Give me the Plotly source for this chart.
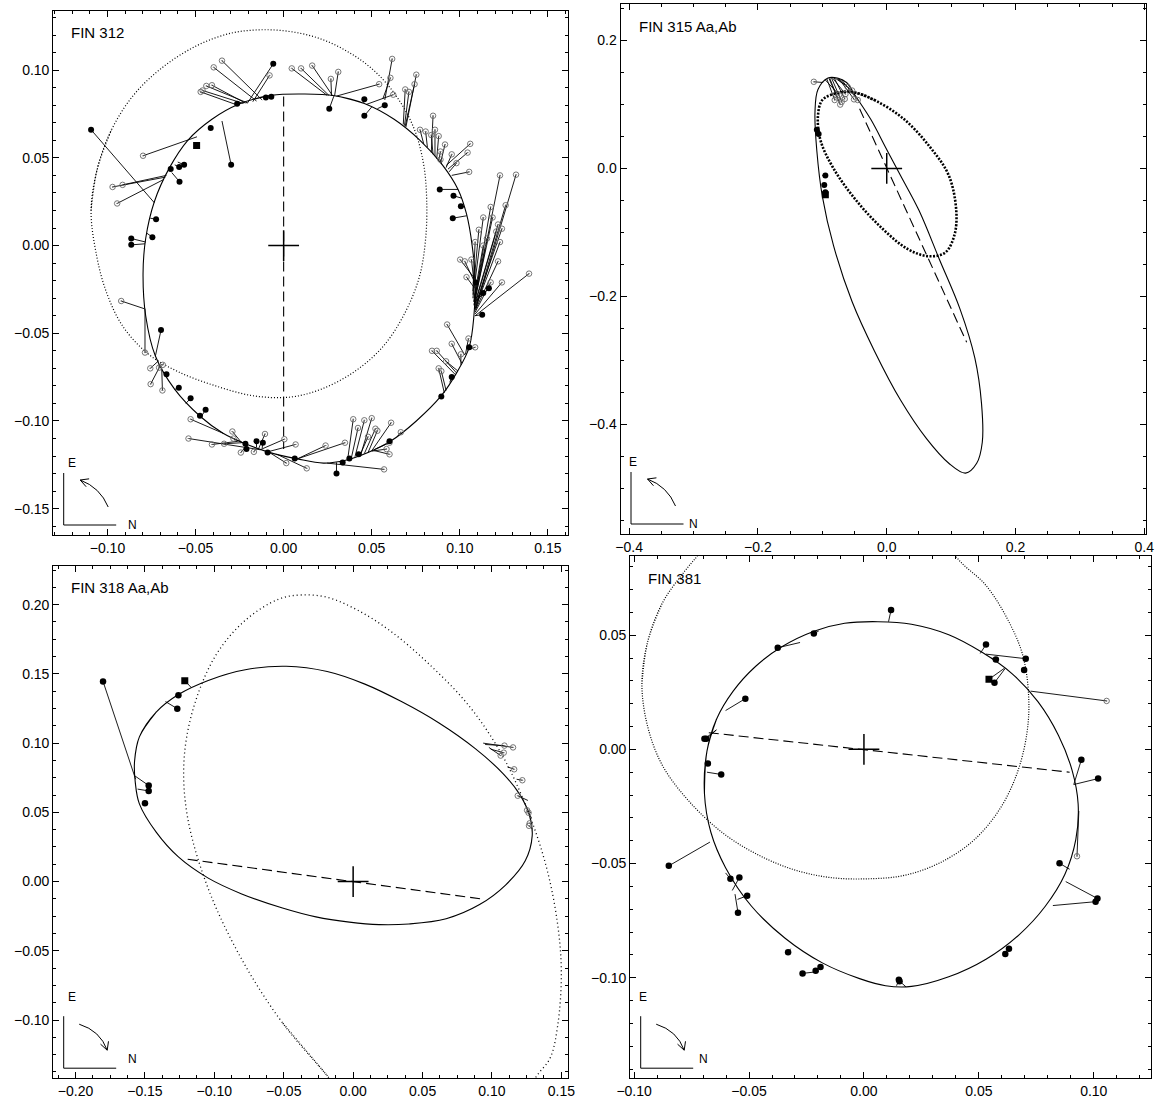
import plotly.graph_objects as go
import numpy as np

# ---------------- DATA ----------------
# Panel 1: FIN 312
P1_orbit_x = [0.0120, 0.0289, 0.0458, 0.0627, 0.0774, 0.0901, 0.0990, 0.1038, 0.1070, 0.1087, 0.1080, 0.1053,
              0.0985, 0.0895, 0.0753, 0.0606, 0.0479, 0.0352, 0.0226, 0.0078, -0.0091, -0.0217, -0.0344, -0.0471,
              -0.0618, -0.0728, -0.0783, -0.0798, -0.0783, -0.0734, -0.0650, -0.0544, -0.0407, -0.0259, -0.0070, 0.0120]
P1_orbit_y = [0.0864, 0.0854, 0.0810, 0.0720, 0.0600, 0.0460, 0.0320, 0.0180, 0.0000, -0.0200, -0.0400, -0.0580,
              -0.0720, -0.0856, -0.1000, -0.1116, -0.1180, -0.1224, -0.1240, -0.1216, -0.1176, -0.1130, -0.1070, -0.0976,
              -0.0820, -0.0630, -0.0400, -0.0160, 0.0040, 0.0250, 0.0440, 0.0600, 0.0720, 0.0804, 0.0856, 0.0864]
P1_prev_x = [-0.1093, -0.1057, -0.0977, -0.0850, -0.0682, -0.0492, -0.0302, -0.0133, 0.0036, 0.0205, 0.0373, 0.0521,
             0.0648, 0.0743, 0.0795, 0.0812, 0.0806, 0.0770, 0.0680, 0.0560, 0.0400, 0.0210, 0.0036, -0.0175,
             -0.0386, -0.0597, -0.0766, -0.0913, -0.1008, -0.1065, -0.1093]
P1_prev_y = [0.0200, 0.0440, 0.0660, 0.0860, 0.1020, 0.1140, 0.1210, 0.1230, 0.1220, 0.1180, 0.1100, 0.0990,
             0.0840, 0.0660, 0.0460, 0.0260, 0.0040, -0.0180, -0.0400, -0.0580, -0.0720, -0.0820, -0.0864, -0.0856,
             -0.0800, -0.0720, -0.0620, -0.0460, -0.0260, -0.0040, 0.0200]
P1_node_x = [0.0, 0.0]
P1_node_y = [0.085, -0.116]
P1_fill_x = [-0.0059, -0.0101, -0.0070, -0.0264, -0.0414, -0.0298, -0.0641, -0.0593, -0.0565, -0.0591,
             -0.1093, -0.0724, -0.0865, -0.0865, -0.0745, -0.0696, -0.0665, -0.0595, -0.0528, -0.0443,
             -0.0475, -0.0217, -0.0211, -0.0154, -0.0118, -0.0091, 0.0063, 0.0300, 0.0335, 0.0373,
             0.0426, 0.0601, 0.0895, 0.0954, 0.1053, 0.1091, 0.1133, 0.1165, 0.1127, 0.0886,
             0.0964, 0.1006, 0.0960, 0.0574, 0.0458, 0.0458, 0.0259]
P1_fill_y = [0.1036, 0.0844, 0.0848, 0.0808, 0.0670, 0.0460, 0.0436, 0.0448, 0.0460, 0.0364,
             0.0660, 0.0150, 0.0040, 0.0004, 0.0048, -0.0482, -0.0734, -0.0810, -0.0870, -0.0936,
             -0.0970, -0.1130, -0.1160, -0.1116, -0.1124, -0.1180, -0.1214, -0.1300, -0.1236, -0.1214,
             -0.1190, -0.1116, -0.0860, -0.0750, -0.0580, -0.0210, -0.0270, -0.0244, -0.0394, 0.0320,
             0.0284, 0.0224, 0.0156, 0.0800, 0.0834, 0.0740, 0.0780]
P1_fill_cx = [-0.0207, -0.0108, -0.0074, -0.0249, -0.0418, -0.0350, -0.0650, -0.0618, -0.0601, -0.0635,
              -0.0734, -0.0757, -0.0783, -0.0787, -0.0776, -0.0728, -0.0682, -0.0618, -0.0555, -0.0471,
              -0.0481, -0.0217, -0.0207, -0.0154, -0.0122, -0.0095, 0.0078, 0.0300, 0.0342, 0.0373,
              0.0426, 0.0606, 0.0901, 0.0943, 0.1049, 0.1085, 0.1087, 0.1087, 0.1085, 0.0990,
              0.1011, 0.1028, 0.1040, 0.0532, 0.0454, 0.0500, 0.0285]
P1_fill_cy = [0.0810, 0.0840, 0.0848, 0.0804, 0.0684, 0.0710, 0.0440, 0.0460, 0.0476, 0.0416,
              0.0244, 0.0156, 0.0020, 0.0010, 0.0070, -0.0630, -0.0720, -0.0820, -0.0900, -0.0980,
              -0.0970, -0.1124, -0.1136, -0.1150, -0.1156, -0.1170, -0.1216, -0.1236, -0.1228, -0.1214,
              -0.1190, -0.1116, -0.0852, -0.0780, -0.0586, -0.0224, -0.0300, -0.0320, -0.0400, 0.0320,
              0.0270, 0.0220, 0.0170, 0.0780, 0.0814, 0.0790, 0.0852]
P1_open_x = [-0.0080, -0.0350, -0.0397, -0.0460, -0.0439, -0.0407, -0.0471, -0.0798, -0.0971, -0.0914,
             -0.0945, -0.0922, -0.0787, -0.0757, -0.0707, -0.0686, -0.0755, -0.0688, -0.0528, -0.0540,
             -0.0407, -0.0338, -0.0291, -0.0285, -0.0243, -0.0169, -0.0106, 0.0004, 0.0068, 0.0015,
             0.0131, 0.0238, 0.0348, 0.0395, 0.0422, 0.0458, 0.0500, 0.0521, 0.0532, 0.0479,
             0.0610, 0.0601, 0.0584, 0.0601, 0.0570, 0.0665, 0.0880, 0.0895, 0.0842, 0.0869,
             0.0922, 0.1006, 0.0954, 0.1049, 0.1087, 0.0928, 0.1228, 0.1319, 0.1133, 0.1154,
             0.1217, 0.1239, 0.1108, 0.1087, 0.1175, 0.1228, 0.1002, 0.1028, 0.1066, 0.1038,
             0.1175, 0.1239, 0.1393, 0.1217, 0.1260, 0.1186, 0.1207, 0.1133, 0.0848, 0.0774,
             0.0806, 0.0838, 0.0859, 0.0880, 0.0916, 0.0890, 0.0954, 0.0981, 0.1059, 0.1044,
             0.1053, 0.0890, 0.0616, 0.0606, 0.0542, 0.0622, 0.0690, 0.0711, 0.0743, 0.0753,
             0.0046, 0.0099, 0.0162, 0.0310, 0.0268]
P1_open_y = [0.0970, 0.1054, 0.1016, 0.0884, 0.0910, 0.0914, 0.0876, 0.0512, 0.0334, 0.0346,
             0.0240, -0.0316, -0.0610, -0.0700, -0.0696, -0.0680, -0.0790, -0.0826, -0.0990, -0.1100,
             -0.1134, -0.1130, -0.1060, -0.1100, -0.1180, -0.1176, -0.1074, -0.1104, -0.1134, -0.1240,
             -0.1270, -0.1140, -0.1124, -0.0990, -0.1040, -0.0996, -0.0984, -0.1044, -0.1056, -0.1090,
             -0.1010, -0.1124, -0.1160, -0.1190, -0.1276, -0.1064, -0.0700, -0.0716, -0.0600, -0.0600,
             -0.0660, -0.0620, -0.0560, -0.0530, -0.0580, -0.0450, 0.0400, 0.0404, 0.0160, 0.0040,
             0.0120, 0.0096, 0.0090, 0.0020, 0.0220, 0.0020, -0.0080, -0.0090, -0.0080, -0.0180,
             -0.0210, -0.0210, -0.0160, -0.0090, 0.0230, 0.0160, 0.0080, 0.0000, 0.0740, 0.0660,
             0.0650, 0.0630, 0.0660, 0.0624, 0.0576, 0.0536, 0.0520, 0.0470, 0.0580, 0.0530,
             0.0420, 0.0490, 0.1064, 0.0956, 0.0920, 0.0860, 0.0890, 0.0876, 0.0920, 0.0974,
             0.1010, 0.1010, 0.1026, 0.0990, 0.0950]
P1_open_cx = [-0.0175, -0.0122, -0.0154, -0.0228, -0.0207, -0.0217, -0.0260, -0.0492, -0.0671, -0.0665,
              -0.0682, -0.0791, -0.0787, -0.0713, -0.0707, -0.0698, -0.0703, -0.0692, -0.0344, -0.0133,
              -0.0260, -0.0238, -0.0238, -0.0228, -0.0207, -0.0154, -0.0143, -0.0133, -0.0091, -0.0080,
              -0.0038, 0.0078, 0.0078, 0.0363, 0.0384, 0.0405, 0.0437, 0.0458, 0.0479, 0.0433,
              0.0500, 0.0521, 0.0500, 0.0511, 0.0247, 0.0648, 0.0912, 0.0922, 0.0975, 0.0981,
              0.0990, 0.1006, 0.1011, 0.1032, 0.1044, 0.1028, 0.1080, 0.1091, 0.1074, 0.1078,
              0.1082, 0.1085, 0.1074, 0.1074, 0.1082, 0.1087, 0.1078, 0.1080, 0.1082, 0.1082,
              0.1087, 0.1087, 0.1087, 0.1087, 0.1087, 0.1082, 0.1085, 0.1080, 0.0838, 0.0795,
              0.0816, 0.0848, 0.0859, 0.0869, 0.0890, 0.0880, 0.0922, 0.0939, 0.0922, 0.0933,
              0.0954, 0.0897, 0.0574, 0.0563, 0.0300, 0.0468, 0.0679, 0.0686, 0.0690, 0.0694,
              0.0247, 0.0257, 0.0278, 0.0289, 0.0272]
P1_open_cy = [0.0820, 0.0830, 0.0824, 0.0810, 0.0814, 0.0812, 0.0800, 0.0620, 0.0390, 0.0400,
              0.0376, -0.0360, -0.0360, -0.0660, -0.0676, -0.0680, -0.0690, -0.0700, -0.1070, -0.1164,
              -0.1116, -0.1124, -0.1124, -0.1126, -0.1136, -0.1156, -0.1160, -0.1164, -0.1176, -0.1180,
              -0.1190, -0.1216, -0.1216, -0.1222, -0.1212, -0.1204, -0.1194, -0.1186, -0.1180, -0.1196,
              -0.1170, -0.1160, -0.1172, -0.1168, -0.1240, -0.1086, -0.0840, -0.0826, -0.0736, -0.0726,
              -0.0716, -0.0680, -0.0670, -0.0620, -0.0596, -0.0624, -0.0340, -0.0360, -0.0300, -0.0320,
              -0.0340, -0.0350, -0.0280, -0.0260, -0.0320, -0.0360, -0.0180, -0.0200, -0.0220, -0.0240,
              -0.0380, -0.0390, -0.0400, -0.0370, -0.0360, -0.0330, -0.0340, -0.0300, 0.0530, 0.0580,
              0.0560, 0.0520, 0.0510, 0.0496, 0.0470, 0.0484, 0.0444, 0.0420, 0.0456, 0.0436,
              0.0400, 0.0464, 0.0830, 0.0836, 0.0852, 0.0804, 0.0690, 0.0684, 0.0680, 0.0676,
              0.0856, 0.0856, 0.0854, 0.0852, 0.0854]
P1_first_x = [-0.0494]
P1_first_y = [0.0570]

# Panel 2: FIN 315 Aa,Ab
P2_orbit_x = [-0.0912, -0.0768, -0.0624, -0.0479, -0.0248, -0.0017, 0.0214, 0.0502, 0.0820, 0.1137, 0.1368,
              0.1472, 0.1484, 0.1397, 0.1224, 0.0964, 0.0618, 0.0214, -0.0191, -0.0537, -0.0826, -0.0999,
              -0.1085, -0.1114, -0.1068, -0.0912]
P2_orbit_y = [0.1414, 0.1414, 0.1343, 0.1124, 0.0768, 0.0329, -0.0110, -0.0658, -0.1425, -0.2193, -0.2960,
              -0.3673, -0.4276, -0.4605, -0.4759, -0.4605, -0.4221, -0.3618, -0.2851, -0.2083, -0.1206, -0.0439,
              0.0274, 0.0877, 0.1234, 0.1414]
P2_prev_x = [-0.0768, -0.0537, -0.0191, 0.0271, 0.0676, 0.0964, 0.1080, 0.1051, 0.0906, 0.0647, 0.0329,
             -0.0075, -0.0479, -0.0826, -0.1028, -0.1068, -0.0999, -0.0768]
P2_prev_y = [0.1179, 0.1195, 0.1069, 0.0768, 0.0329, -0.0110, -0.0658, -0.1042, -0.1316, -0.1371, -0.1261,
             -0.0932, -0.0493, 0.0000, 0.0439, 0.0822, 0.1069, 0.1179]
P2_node_x = [-0.0421, 0.1241]
P2_node_y = [0.0932, -0.2714]
P2_open_x = [-0.1132, -0.0808, -0.0768, -0.0699, -0.0652, -0.0722, -0.0508, -0.0450, -0.0537, -0.0606, -0.0641, -0.0739]
P2_open_y = [0.1354, 0.1069, 0.1107, 0.1042, 0.1086, 0.0998, 0.1080, 0.1069, 0.1217, 0.1272, 0.1162, 0.1151]
P2_open_cx = [-0.0987, -0.0930, -0.0895, -0.0855, -0.0814, -0.0883, -0.0739, -0.0699, -0.0768, -0.0797, -0.0837, -0.0953]
P2_open_cy = [0.1343, 0.1398, 0.1404, 0.1409, 0.1414, 0.1404, 0.1398, 0.1382, 0.1404, 0.1409, 0.1409, 0.1382]
P2_fill_x = [-0.1085, -0.1057, -0.0953, -0.0970, -0.0953]
P2_fill_y = [0.0603, 0.0537, -0.0110, -0.0258, -0.0373]
P2_fill_cx = [-0.1103, -0.1091, -0.0999, -0.0987, -0.0964]
P2_fill_cy = [0.0603, 0.0521, -0.0110, -0.0247, -0.0356]
P2_first_x = [-0.0953]
P2_first_y = [-0.0411]

# Panel 3: FIN 318 Aa,Ab
P3_orbit_x = [-0.1575, -0.1540, -0.1419, -0.1259, -0.1044, -0.0777, -0.0482, -0.0187, 0.0080, 0.0348, 0.0616,
              0.0880, 0.1080, 0.1200, 0.1270, 0.1290, 0.1240, 0.1098, 0.0911, 0.0670, 0.0402, 0.0187, -0.0027,
              -0.0268, -0.0509, -0.0803, -0.1044, -0.1259, -0.1419, -0.1540, -0.1570, -0.1575]
P3_orbit_y = [0.0867, 0.1045, 0.1224, 0.1351, 0.1453, 0.1530, 0.1555, 0.1517, 0.1428, 0.1300, 0.1147,
              0.0960, 0.0780, 0.0630, 0.0480, 0.0330, 0.0150, -0.0025, -0.0166, -0.0268, -0.0306, -0.0311, -0.0293,
              -0.0255, -0.0191, -0.0089, 0.0025, 0.0178, 0.0357, 0.0561, 0.0720, 0.0867]
P3_prev_x = [0.0080, -0.0187, -0.0509, -0.0803, -0.1044, -0.1192, -0.1219, -0.1152, -0.0991, -0.0777, -0.0536,
             -0.0375, -0.0187, 0.0027, 0.0268, 0.0536, 0.0830, 0.1071, 0.1259, 0.1393, 0.1473, 0.1500, 0.1473,
             0.1419, 0.1312, 0.1205, 0.0937, 0.0402, 0.0080]
P3_prev_y = [-0.1730, -0.1402, -0.1020, -0.0561, -0.0051, 0.0459, 0.0867, 0.1249, 0.1632, 0.1887, 0.2040,
             0.2070, 0.2053, 0.1963, 0.1810, 0.1581, 0.1275, 0.0918, 0.0510, 0.0102, -0.0306, -0.0663, -0.1045,
             -0.1275, -0.1420, -0.1680, -0.1887, -0.1938, -0.1730]
P3_node_x = [-0.1192, 0.0937]
P3_node_y = [0.0161, -0.0127]
P3_fill_x = [-0.1802, -0.1259, -0.1267, -0.1473, -0.1473, -0.1500]
P3_fill_y = [0.1446, 0.1346, 0.1249, 0.0694, 0.0655, 0.0566]
P3_fill_cx = [-0.1567, -0.1262, -0.1352, -0.1575, -0.1553, -0.1513]
P3_fill_cy = [0.0739, 0.1340, 0.1300, 0.0765, 0.0668, 0.0581]
P3_open_x = [0.1063, 0.1085, 0.1152, 0.1090, 0.1160, 0.1219, 0.1186, 0.1253, 0.1264, 0.1272, 0.1267]
P3_open_y = [0.0910, 0.0931, 0.0969, 0.0982, 0.0811, 0.0732, 0.0620, 0.0515, 0.0497, 0.0421, 0.0403]
P3_open_cx = [0.0978, 0.0991, 0.0937, 0.0951, 0.1111, 0.1178, 0.1259, 0.1280, 0.1285, 0.1285, 0.1291]
P3_open_cy = [0.0969, 0.0956, 0.1000, 0.0990, 0.0829, 0.0739, 0.0586, 0.0497, 0.0459, 0.0408, 0.0382]
P3_first_x = [-0.1213]
P3_first_y = [0.1451]
P3_first_cx = [-0.1165]
P3_first_cy = [0.1400]

# Panel 4: FIN 381
P4_orbit_x = [-0.0694, -0.0683, -0.0642, -0.0569, -0.0472, -0.0359, -0.0214, -0.0084, 0.0061, 0.0207, 0.0369,
              0.0514, 0.0644, 0.0757, 0.0846, 0.0906, 0.0932, 0.0922, 0.0874, 0.0789, 0.0676, 0.0531, 0.0369,
              0.0207, 0.0094, -0.0019, -0.0181, -0.0343, -0.0489, -0.0602, -0.0666, -0.0694]
P4_orbit_y = [-0.0193, -0.0008, 0.0131, 0.0255, 0.0363, 0.0448, 0.0518, 0.0552, 0.0559, 0.0548, 0.0502,
              0.0425, 0.0332, 0.0209, 0.0062, -0.0093, -0.0239, -0.0394, -0.0548, -0.0687, -0.0811, -0.0919, -0.0996,
              -0.1038, -0.1035, -0.1004, -0.0935, -0.0827, -0.0687, -0.0518, -0.0363, -0.0193]
P4_prev_x = [-0.0966, -0.0941, -0.0877, -0.0780, -0.0699, -0.0569, -0.0359, -0.0116, 0.0126, 0.0304, 0.0401,
             0.0531, 0.0628, 0.0692, 0.0717, 0.0709, 0.0668, 0.0595, 0.0482, 0.0336, 0.0175, 0.0013, -0.0149,
             -0.0311, -0.0472, -0.0618, -0.0764, -0.0877, -0.0941, -0.0966]
P4_prev_y = [0.0286, 0.0471, 0.0641, 0.0780, 0.0873, 0.0996, 0.1151, 0.1244, 0.1213, 0.1058, 0.0845,
             0.0718, 0.0564, 0.0409, 0.0224, 0.0070, -0.0100, -0.0255, -0.0394, -0.0494, -0.0552, -0.0567, -0.0561,
             -0.0525, -0.0456, -0.0363, -0.0224, -0.0070, 0.0100, 0.0286]
P4_node_x = [-0.0675, 0.0895]
P4_node_y = [0.0073, -0.0100]
P4_fill_x = [0.0118, -0.0218, -0.0375, 0.0531, 0.0704, 0.0574, 0.0568, 0.0697, -0.0516, -0.0686, -0.0694,
             -0.0679, -0.0621, 0.0946, 0.1019, 0.0851, 0.1016, 0.1008, -0.0849, -0.0581, -0.0542, -0.0508,
             -0.0548, -0.0330, -0.0267, -0.0210, -0.0189, 0.0152, 0.0155, 0.0615, 0.0631]
P4_fill_y = [0.0610, 0.0507, 0.0445, 0.0459, 0.0397, 0.0394, 0.0292, 0.0348, 0.0222, 0.0046, 0.0046,
             -0.0062, -0.0110, -0.0046, -0.0128, -0.0499, -0.0653, -0.0667, -0.0510, -0.0567, -0.0561, -0.0641,
             -0.0715, -0.0888, -0.0981, -0.0970, -0.0953, -0.1009, -0.1015, -0.0896, -0.0873]
P4_fill_cx = [0.0107, -0.0197, -0.0278, 0.0506, 0.0531, 0.0555, 0.0615, 0.0692, -0.0602, -0.0642, -0.0642,
              -0.0689, -0.0683, 0.0913, 0.0913, 0.0895, 0.0878, 0.0822, -0.0670, -0.0602, -0.0573, -0.0550,
              -0.0561, -0.0319, -0.0197, -0.0205, -0.0178, 0.0142, 0.0183, 0.0608, 0.0624]
P4_fill_cy = [0.0559, 0.0518, 0.0468, 0.0420, 0.0417, 0.0400, 0.0355, 0.0340, 0.0170, 0.0085, 0.0085,
              -0.0070, -0.0100, -0.0154, -0.0154, -0.0525, -0.0579, -0.0684, -0.0406, -0.0541, -0.0618, -0.0657,
              -0.0634, -0.0873, -0.0973, -0.0958, -0.0947, -0.1035, -0.1040, -0.0885, -0.0870]
P4_open_x = [0.1056, 0.0927]
P4_open_y = [0.0212, -0.0468]
P4_open_cx = [0.0725, 0.0935]
P4_open_cy = [0.0255, -0.0270]
P4_first_x = [0.0544]
P4_first_y = [0.0307]
P4_first_cx = [0.0611]
P4_first_cy = [0.0355]

TITLES = ["FIN 312", "FIN 315 Aa,Ab", "FIN 318 Aa,Ab", "FIN 381"]

# ---------------- LAYOUT GEOMETRY (pixels) ----------------
W, H = 1157, 1104
# (left, right, top, bottom) pixel boxes of each panel
BOX = [(53.2, 568.0, 10.5, 535.0), (620.5, 1145.8, 4.2, 534.0),
       (53.2, 568.0, 565.9, 1078.2), (630.2, 1151.0, 556.4, 1078.2)]
RANGES = [((-0.1308, 0.1614), (-0.1650, 0.1340)),
          ((-0.4134, 0.4023), (-0.5710, 0.2566)),
          ((-0.2161, 0.1548), (-0.1420, 0.2280)),
          ((-0.1017, 0.1249), (-0.1440, 0.0845))]
DTICK = [(0.05, 0.01, ".2f"), (0.2, 0.05, ".1f"), (0.05, 0.0125, ".2f"), (0.05, 0.01, ".2f")]
CW = [False, False, True, True]
DOT = [6, 6, 6.5, 6.5]

FONT = "Liberation Sans, Arial, Helvetica, sans-serif"

fig = go.Figure()


def resid(ox, oy, cx, cy):
    xs, ys = [], []
    for a, b, c, d in zip(ox, oy, cx, cy):
        xs += [a, c, None]
        ys += [b, d, None]
    return xs, ys


def loop(xs, ys):
    # closed curve: run a little past the start so the spline joins smoothly
    return list(xs) + list(xs[1:3]), list(ys) + list(ys[1:3])


panels = [
    dict(orbit=(P1_orbit_x, P1_orbit_y), prev=(P1_prev_x, P1_prev_y), node=(P1_node_x, P1_node_y),
         fill=(P1_fill_x, P1_fill_y, P1_fill_cx, P1_fill_cy), open=(P1_open_x, P1_open_y, P1_open_cx, P1_open_cy),
         first=(P1_first_x, P1_first_y, P1_first_x, P1_first_y), prevw=1.2, prevdash="1px,2px"),
    dict(orbit=(P2_orbit_x, P2_orbit_y), prev=(P2_prev_x, P2_prev_y), node=(P2_node_x, P2_node_y),
         fill=(P2_fill_x, P2_fill_y, P2_fill_cx, P2_fill_cy), open=(P2_open_x, P2_open_y, P2_open_cx, P2_open_cy),
         first=(P2_first_x, P2_first_y, P2_first_x, P2_first_y), prevw=2.6, prevdash="2px,1.5px"),
    dict(orbit=(P3_orbit_x, P3_orbit_y), prev=(P3_prev_x, P3_prev_y), node=(P3_node_x, P3_node_y),
         fill=(P3_fill_x, P3_fill_y, P3_fill_cx, P3_fill_cy), open=(P3_open_x, P3_open_y, P3_open_cx, P3_open_cy),
         first=(P3_first_x, P3_first_y, P3_first_cx, P3_first_cy), prevw=1.3, prevdash="1px,3px"),
    dict(orbit=(P4_orbit_x, P4_orbit_y), prev=(P4_prev_x, P4_prev_y), node=(P4_node_x, P4_node_y),
         fill=(P4_fill_x, P4_fill_y, P4_fill_cx, P4_fill_cy), open=(P4_open_x, P4_open_y, P4_open_cx, P4_open_cy),
         first=(P4_first_x, P4_first_y, P4_first_cx, P4_first_cy), prevw=1.2, prevdash="1px,1.5px"),
]

for i, p in enumerate(panels):
    xa = "x" if i == 0 else f"x{i+1}"
    ya = "y" if i == 0 else f"y{i+1}"
    common = dict(xaxis=xa, yaxis=ya, showlegend=False, hoverinfo="skip")
    px_, py_ = loop(*p["prev"])
    fig.add_trace(go.Scatter(x=px_, y=py_, mode="lines", line_shape="spline",
                             line=dict(color="black", width=p["prevw"], dash=p["prevdash"]), **common))
    ox_, oy_ = loop(*p["orbit"])
    fig.add_trace(go.Scatter(x=ox_, y=oy_, mode="lines", line_shape="spline",
                             line=dict(color="black", width=1.1), **common))
    fig.add_trace(go.Scatter(x=p["node"][0], y=p["node"][1], mode="lines",
                             line=dict(color="black", width=1.1, dash="10px,5px"), **common))
    rx, ry = [], []
    for key in ("fill", "open", "first"):
        a, b = resid(*p[key])
        rx += a
        ry += b
    fig.add_trace(go.Scatter(x=rx, y=ry, mode="lines", line=dict(color="black", width=0.9), **common))
    fig.add_trace(go.Scatter(x=p["open"][0], y=p["open"][1], mode="markers",
                             marker=dict(symbol="circle-open-dot", size=5.5, color="#666666",
                                         line=dict(width=0.9, color="#666666")), **common))
    fig.add_trace(go.Scatter(x=p["fill"][0], y=p["fill"][1], mode="markers",
                             marker=dict(symbol="circle", size=DOT[i], color="black"), **common))
    fig.add_trace(go.Scatter(x=p["first"][0], y=p["first"][1], mode="markers",
                             marker=dict(symbol="square", size=7, color="black"), **common))
    fig.add_trace(go.Scatter(x=[0], y=[0], mode="markers",
                             marker=dict(symbol="cross-thin", size=22, color="black",
                                         line=dict(width=1.5, color="black")), **common))

shapes, annots = [], []


def P(px, py):
    return px / W, 1 - py / H


for i in range(4):
    L, R, T, B = BOX[i]
    (x0, x1), (y0, y1) = RANGES[i]
    dt, mdt, fmt = DTICK[i]
    ax_common = dict(showline=True, linecolor="black", linewidth=1, mirror="allticks",
                     ticks="inside", ticklen=6, tickwidth=1, tickcolor="black",
                     showgrid=False, zeroline=False, tick0=0, dtick=dt, tickformat=fmt,
                     tickfont=dict(family=FONT, size=14, color="black"),
                     minor=dict(ticks="inside", ticklen=3, tickwidth=1, tickcolor="black", dtick=mdt, tick0=0,
                                showgrid=False),
                     automargin=False, fixedrange=True)
    xa = "xaxis" if i == 0 else f"xaxis{i+1}"
    ya = "yaxis" if i == 0 else f"yaxis{i+1}"
    fig.layout[xa] = dict(ax_common, domain=[L / W, R / W], range=[x0, x1],
                          anchor="y" if i == 0 else f"y{i+1}")
    fig.layout[ya] = dict(ax_common, domain=[1 - B / H, 1 - T / H], range=[y0, y1],
                          anchor="x" if i == 0 else f"x{i+1}")

    # title
    tx, ty = P(L + 16, T + 22)
    annots.append(dict(x=tx, y=ty, xref="paper", yref="paper", text=TITLES[i], showarrow=False,
                       xanchor="left", yanchor="middle", font=dict(family=FONT, size=15, color="black")))

    # compass
    vx, vy0 = P(L + 10.5, B - 10)
    _, vy1 = P(L + 10.5, B - 62)
    hx1, _ = P(L + 63, B - 10)
    shapes.append(dict(type="line", xref="paper", yref="paper", x0=vx, y0=vy0, x1=vx, y1=vy1,
                       line=dict(color="black", width=1)))
    shapes.append(dict(type="line", xref="paper", yref="paper", x0=vx, y0=vy0, x1=hx1, y1=vy0,
                       line=dict(color="black", width=1)))
    ex, ey = P(L + 12.5, B - 72)
    nx, ny = P(L + 73, B - 10)
    annots.append(dict(x=ex, y=ey, xref="paper", yref="paper", text="E", showarrow=False,
                       font=dict(family=FONT, size=12, color="black")))
    annots.append(dict(x=nx, y=ny, xref="paper", yref="paper", text="N", showarrow=False,
                       font=dict(family=FONT, size=12, color="black")))
    if CW[i]:
        S = np.array([26.0, -54.0]); E = np.array([54.0, -28.0])
    else:
        S = np.array([55.0, -28.0]); E = np.array([27.0, -55.0])
    C = np.array([47.0, -47.5])
    sp, cp, ep = P(L + S[0], B + S[1]), P(L + C[0], B + C[1]), P(L + E[0], B + E[1])
    shapes.append(dict(type="path", xref="paper", yref="paper",
                       path=f"M {sp[0]},{sp[1]} Q {cp[0]},{cp[1]} {ep[0]},{ep[1]}",
                       line=dict(color="black", width=1)))
    bvec = (C - E) / np.linalg.norm(C - E)
    for ang in (np.radians(28), -np.radians(28)):
        rot = np.array([bvec[0] * np.cos(ang) - bvec[1] * np.sin(ang),
                        bvec[0] * np.sin(ang) + bvec[1] * np.cos(ang)])
        q = E + 9 * rot
        a0, a1 = P(L + E[0], B + E[1]), P(L + q[0], B + q[1])
        shapes.append(dict(type="line", xref="paper", yref="paper", x0=a0[0], y0=a0[1], x1=a1[0], y1=a1[1],
                           line=dict(color="black", width=1)))

fig.update_layout(width=W, height=H, margin=dict(l=0, r=0, t=0, b=0, pad=0, autoexpand=False),
                  paper_bgcolor="white", plot_bgcolor="white",
                  shapes=shapes, annotations=annots, font=dict(family=FONT, size=14, color="black"))

fig.write_html("out.html", config={"displayModeBar": False},
               post_script="document.body.style.margin='0';document.body.style.overflow='hidden';"
                           "document.documentElement.style.overflow='hidden';")
